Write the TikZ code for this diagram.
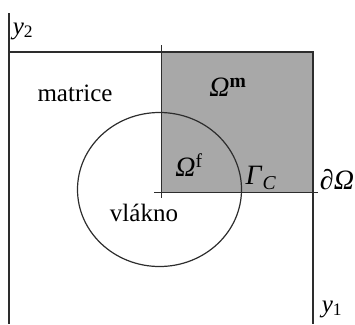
\documentclass[tikz,border=0pt]{standalone}
\usepackage{fontspec}
\setmainfont{Liberation Serif}
\definecolor{shadegray}{RGB}{168,168,168}
\definecolor{linegray}{RGB}{45,45,45}
\begin{document}
\begin{tikzpicture}[x=1pt,y=-1pt,
  edge/.style={draw=linegray, line width=1.2pt},
  thinedge/.style={draw=linegray, line width=0.8pt},
  lbl/.style={inner sep=0pt, font=\fontsize{25}{27}\selectfont},
  mlbl/.style={inner sep=0pt, font=\fontsize{28}{30}\selectfont}]
\useasboundingbox (0,0) rectangle (355,324);
\fill[shadegray] (161,52) rectangle (313,192);
\draw[edge] (9,13) -- (9,324);
\draw[edge, line width=1.8pt] (8.5,52) -- (314,52);
\draw[edge] (313,52) -- (313,324);
\draw[thinedge] (161,45) -- (161,198);
\draw[thinedge] (154,192) -- (318,192);
\draw[edge] (159.5,189.5) ellipse [x radius=82, y radius=77];
\node[lbl] (y2) at (23,31) {\textit{y}\textsubscript{2}};
\node[lbl] (mat) at (75,93) {matrice};
\node[mlbl] (om) at (228,87) {\textit{Ω}\textsuperscript{\textbf{m}}};
\node[mlbl] (of) at (189,165) {\textit{Ω}\textsuperscript{f}};
\node[mlbl] (gc) at (261,178) {\textit{Γ}\textsubscript{\textit{C}}};
\node[mlbl] (bd) at (337,180) {∂\textit{Ω}};
\node[lbl] (vl) at (144,213) {vlákno};
\node[lbl] (y1) at (332,309) {\textit{y}\textsubscript{1}};
\end{tikzpicture}
\end{document}
